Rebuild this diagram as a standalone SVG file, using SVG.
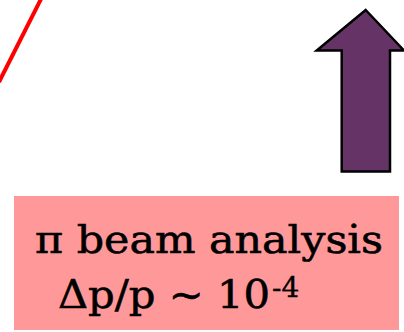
<svg xmlns="http://www.w3.org/2000/svg" width="404" height="332" viewBox="0 0 404 332">
<style>
.lbl{font-family:"DejaVu Serif","Liberation Serif",serif;font-size:40px;fill:#000;stroke:#000;stroke-width:0.6}
</style>
<rect width="404" height="332" fill="#fff"/>
<g id="red-line"><line x1="41" y1="-1" x2="-1" y2="82" stroke="#ff0000" stroke-width="4"/></g>
<g id="arrow"><polygon points="365.7,10 404,50.5 390,50.5 390,171.5 341.7,171.5 341.7,50.5 316.7,50.5" fill="#663366" stroke="#000" stroke-width="2.5" stroke-linejoin="miter"/></g>
<g id="box">
<rect x="14" y="196" width="385" height="134" fill="#ff9999"/>
<text class="lbl" x="35" y="253" textLength="348" lengthAdjust="spacingAndGlyphs">π beam analysis</text>
<text class="lbl" x="58" y="308"><tspan textLength="212" lengthAdjust="spacingAndGlyphs">Δp/p ~ 10</tspan><tspan font-size="28" dx="2" dy="-11" stroke-width="0.4">-4</tspan></text>
</g>
</svg>
